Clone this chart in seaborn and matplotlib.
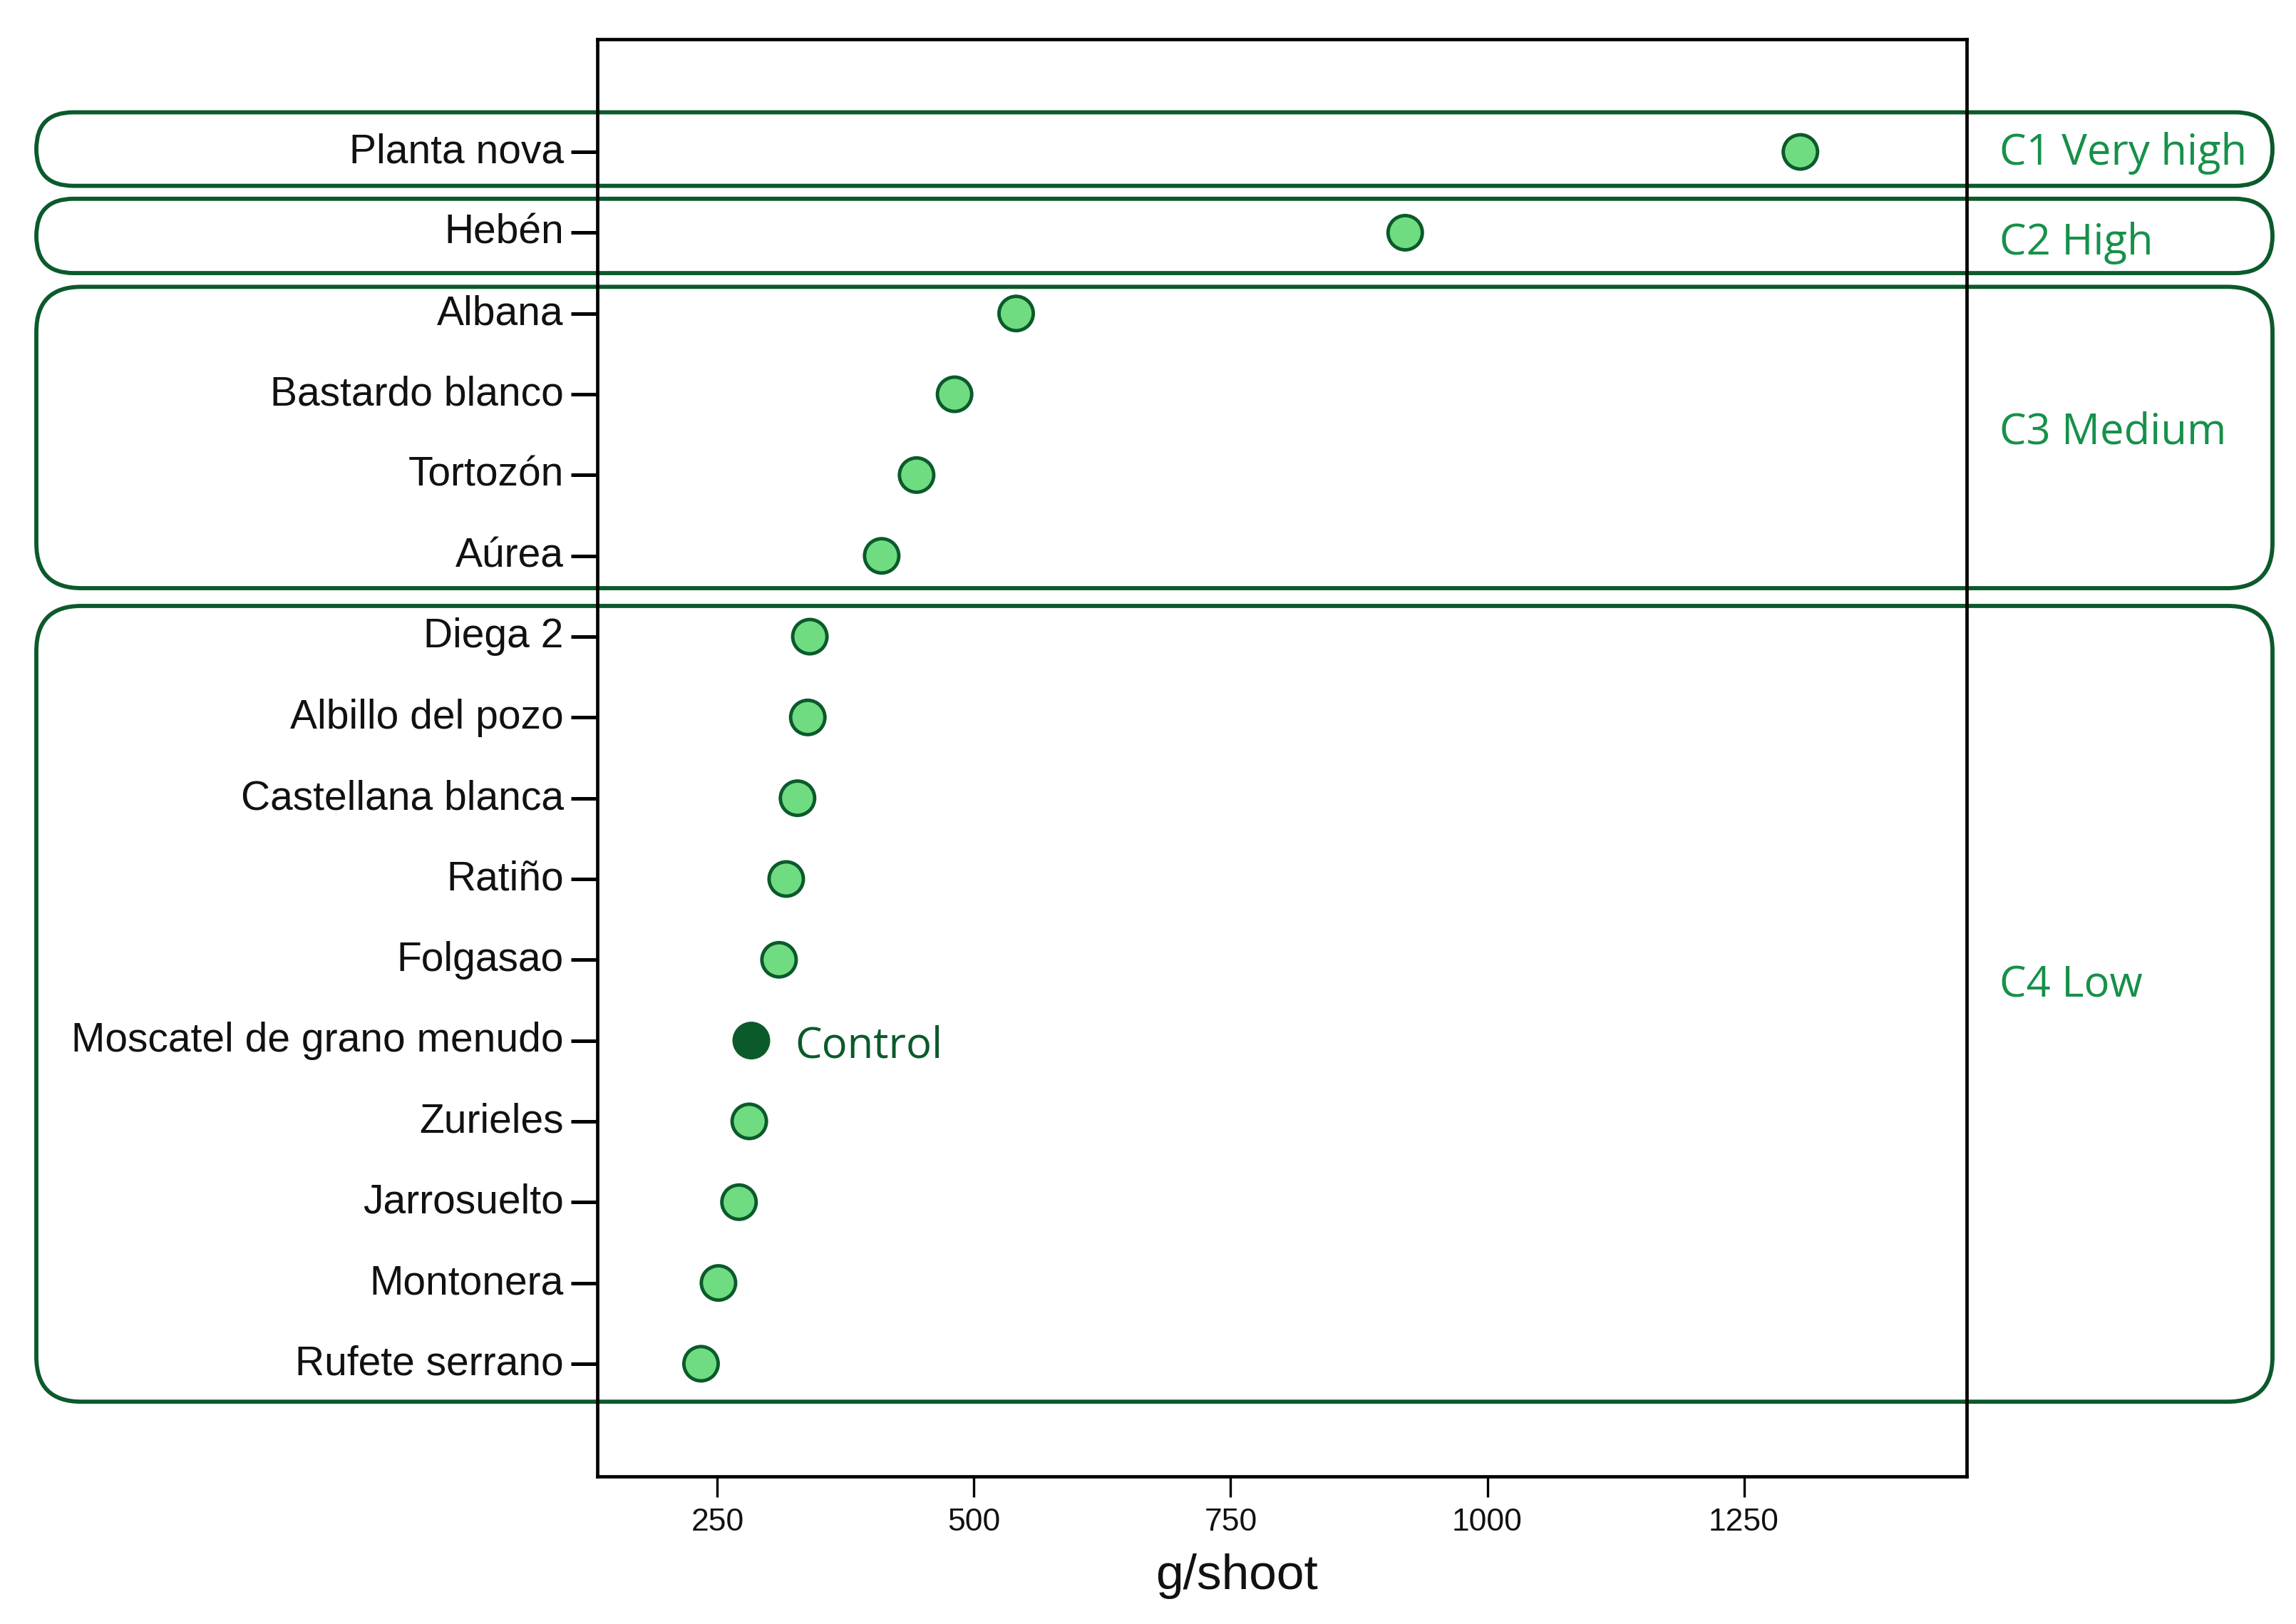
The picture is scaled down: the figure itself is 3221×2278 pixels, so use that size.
import matplotlib
matplotlib.use("Agg")
import matplotlib.pyplot as plt
import matplotlib.transforms as mtransforms
from matplotlib.patches import FancyBboxPatch
import seaborn as sns
import pandas as pd

# ---------------- data ----------------
cultivars = ["Planta nova", "Hebén", "Albana", "Bastardo blanco", "Tortozón", "Aúrea",
             "Diega 2", "Albillo del pozo", "Castellana blanca", "Ratiño", "Folgasao",
             "Moscatel de grano menudo", "Zurieles", "Jarrosuelto", "Montonera",
             "Rufete serrano"]
shoot_weight = [1305, 920, 541, 481, 444, 410, 340, 338, 328, 317, 310, 283, 281, 271, 251, 234]
role = ["Cultivar"] * 11 + ["Control"] + ["Cultivar"] * 4

group_labels = ["C1 Very high", "C2 High", "C3 Medium", "C4 Low"]
group_first = [0, 1, 2, 6]
group_last = [0, 1, 5, 15]

x_ticks = [250, 500, 750, 1000, 1250]
x_label = "g/shoot"
control_label = "Control"

# ---------------- style ----------------
LIGHT = "#70dc82"
DARK = "#0b5a2b"
LABEL_GREEN = "#17904a"

sns.set_theme(style="white")
plt.rcParams["font.family"] = ["Liberation Sans", "DejaVu Sans"]

df = pd.DataFrame({"cultivar": cultivars, "weight": shoot_weight, "role": role})

W, H = 3221, 2278
fig = plt.figure(figsize=(W / 100, H / 100), dpi=100)
ax = fig.add_axes([838 / W, 1 - 2071 / H, (2759 - 838) / W, (2071 - 55) / H])
ax.set_facecolor("none")

sns.scatterplot(data=df, x="weight", y="cultivar", hue="role",
                palette={"Cultivar": LIGHT, "Control": DARK},
                s=1200, edgecolor=DARK, linewidth=3.5, legend=False, ax=ax, zorder=5)

n = len(cultivars)
ax.set_ylim(n - 1 + 1.395, -1.395)
ax.set_xlim(133, 1467)
ax.set_xticks(x_ticks)
ax.set_xticklabels([str(t) for t in x_ticks])
ax.set_yticks(range(n))
ax.set_yticklabels(cultivars)

for sp in ax.spines.values():
    sp.set_visible(True)
    sp.set_color("black")
    sp.set_linewidth(3.4)
    sp.set_zorder(6)

ax.tick_params(axis="y", which="major", left=True, length=27, width=3.6, pad=7,
               labelsize=41, colors="black", labelcolor="#111111")
ax.tick_params(axis="x", which="major", bottom=True, length=21, width=2.4, pad=11,
               labelsize=32, colors="black", labelcolor="#111111")

# nudge y tick labels slightly upward, as in the reference
lift = mtransforms.ScaledTranslation(0, 4 / 72, fig.dpi_scale_trans)
for lbl in ax.get_yticklabels():
    lbl.set_transform(lbl.get_transform() + lift)

ax.set_ylabel("")
ax.set_xlabel(x_label, fontsize=50, labelpad=16, color="#111111")
ax.xaxis.label.set_x(0.467)

# ---------------- group boxes ----------------
pads_top = [0.49, 0.42, 0.33, 0.38]
pads_bottom = [0.42, 0.50, 0.40, 0.47]
label_pos = [0.02, 1.13, 3.47, 10.32]
box_x0, box_x1 = 51, 3188
for i in range(len(group_labels)):
    ya = ax.transData.transform((0, group_first[i] - pads_top[i]))[1]
    yb = ax.transData.transform((0, group_last[i] + pads_bottom[i]))[1]
    y0, h = min(ya, yb), abs(ya - yb)
    r = min(63, h / 2)
    patch = FancyBboxPatch((box_x0, y0), box_x1 - box_x0, h,
                           boxstyle=f"round,pad=0,rounding_size={r}",
                           transform=mtransforms.IdentityTransform(),
                           fill=False, edgecolor=DARK, linewidth=4.2, zorder=-1)
    fig.add_artist(patch)

blend = mtransforms.blended_transform_factory(fig.transFigure, ax.transData)
for i, lab in enumerate(group_labels):
    ax.text(2805 / W, label_pos[i], lab, transform=blend,
            ha="left", va="center", fontsize=43, color=LABEL_GREEN,
            family=["Open Sans", "DejaVu Sans"], clip_on=False)

ci = role.index("Control")
ax.annotate(control_label, xy=(shoot_weight[ci], ci), xytext=(44, -6),
            textcoords="offset points", ha="left", va="center", fontsize=43,
            color=DARK, family=["Open Sans", "DejaVu Sans"])

fig.savefig("out.png", dpi=100, facecolor="white")
